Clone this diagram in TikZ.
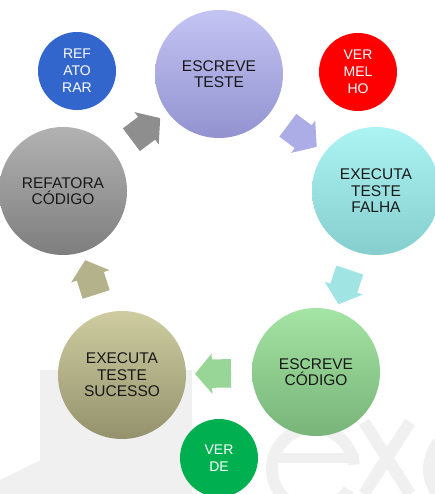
\documentclass[tikz,border=0pt]{standalone}
\usepackage{fontspec}
\setmainfont{Liberation Sans}
\usetikzlibrary{shapes.arrows}

\definecolor{roxoA}{RGB}{196,196,244}
\definecolor{roxoB}{RGB}{146,146,208}
\definecolor{cianoA}{RGB}{172,244,244}
\definecolor{cianoB}{RGB}{134,206,206}
\definecolor{verdeA}{RGB}{164,228,164}
\definecolor{verdeB}{RGB}{120,180,120}
\definecolor{olivaA}{RGB}{206,204,160}
\definecolor{olivaB}{RGB}{148,146,108}
\definecolor{cinzaA}{RGB}{178,178,178}
\definecolor{cinzaB}{RGB}{126,126,126}
\definecolor{azul}{RGB}{51,102,204}
\definecolor{vermelho}{RGB}{255,0,0}
\definecolor{verdeforte}{RGB}{0,176,80}
\definecolor{marca}{RGB}{240,240,240}
\definecolor{setaCinza}{RGB}{142,142,142}
\definecolor{setaRoxo}{RGB}{172,172,230}
\definecolor{setaCiano}{RGB}{160,228,228}
\definecolor{setaVerde}{RGB}{152,214,152}
\definecolor{setaOliva}{RGB}{180,178,138}

\begin{document}
\begin{tikzpicture}[x=1pt, y=1pt,
		etapa/.style={circle, minimum size=128pt, inner sep=0pt, align=center,
			font=\fontsize{15.5}{16.5}\selectfont, text=black!90},
		estado/.style={circle, minimum size=78pt, inner sep=0pt, align=center,
			font=\fontsize{14}{17}\selectfont, text=white},
		seta/.style={single arrow, minimum height=36pt, inner xsep=0pt, inner ysep=14pt,
			single arrow head extend=6pt, single arrow tip angle=100,
			midway, sloped, allow upside down, fill=#1}]
	\useasboundingbox (0,0) rectangle (435,494);
	% marca d'agua
	\fill[marca] (40,0) rectangle (192,124);
	\fill[marca] (0,0) -- (0,14) -- (67,47) -- (67,0) -- cycle;
	\begin{scope}[shift={(313,25)}]
		\fill[marca] (6:47) arc (6:330:47) -- (330:35) arc (330:6:35) -- cycle;
		\fill[marca] (-36,6) rectangle (46,16);
	\end{scope}
	\draw[marca, line width=12pt] (364,72) -- (410,0) (410,72) -- (364,0);
	\fill[marca, even odd rule] (470,25) circle (47) (470,25) circle (35);
	% etapas
	\node[etapa, top color=roxoA, bottom color=roxoB] (esTeste) at (219,420) {ESCREVE\\TESTE};
	\node[etapa, top color=cianoA, bottom color=cianoB] (exFalha) at (376,303) {EXECUTA\\TESTE\\FALHA};
	\node[etapa, top color=verdeA, bottom color=verdeB] (esCodigo) at (316,122) {ESCREVE\\CÓDIGO};
	\node[etapa, top color=olivaA, bottom color=olivaB] (exSucesso) at (122,119) {EXECUTA\\TESTE\\SUCESSO};
	\node[etapa, top color=cinzaA, bottom color=cinzaB] (refCodigo) at (63,303) {REFATORA\\CÓDIGO};
	% estados
	\node[estado, fill=azul] (refatorar) at (77,423) {REF\\ATO\\RAR};
	\node[estado, fill=vermelho] (vermelho) at (358,422) {VER\\MEL\\HO};
	\node[estado, fill=verdeforte] (verde) at (219,36) {VER\\DE};
	% setas
	\path (refCodigo) -- (esTeste) node[seta=setaCinza] (seta1) {};
	\path (esTeste) -- (exFalha) node[seta=setaRoxo] (seta2) {};
	\path (exFalha) -- (esCodigo) node[seta=setaCiano] (seta3) {};
	\path (esCodigo) -- (exSucesso) node[seta=setaVerde] (seta4) {};
	\path (exSucesso) -- (refCodigo) node[seta=setaOliva] (seta5) {};
\end{tikzpicture}
\end{document}
